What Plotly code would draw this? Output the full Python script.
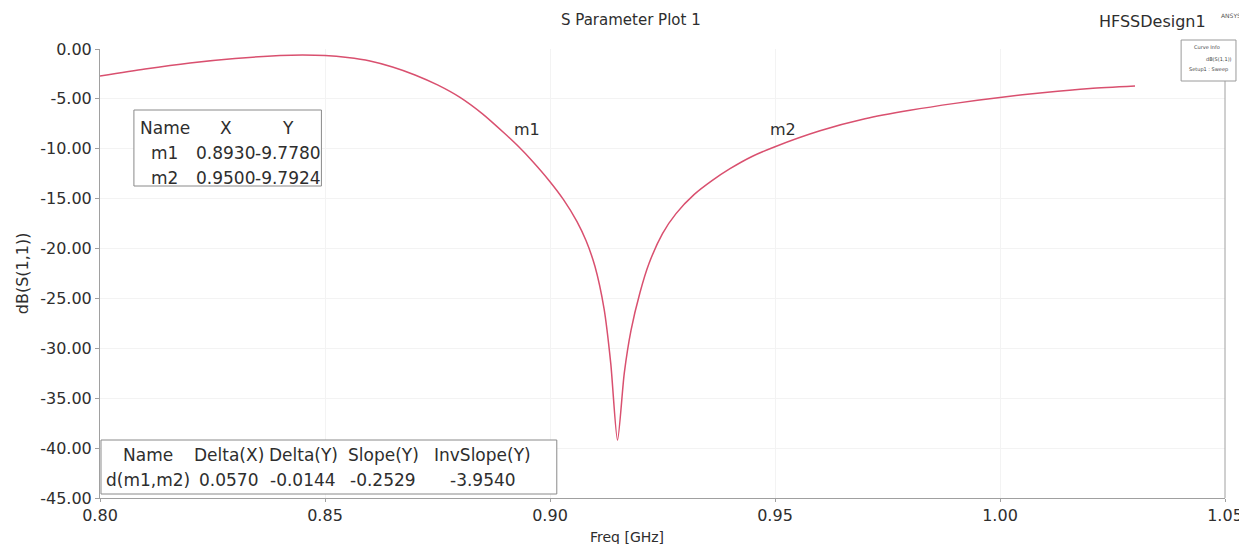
import plotly.graph_objects as go

# ---- data ----
freq_ghz = [0.800, 0.810, 0.820, 0.830, 0.840, 0.845, 0.850, 0.855, 0.860, 0.865,
            0.870, 0.875, 0.880, 0.885, 0.890, 0.893, 0.896, 0.900, 0.903, 0.906,
            0.908, 0.910, 0.912, 0.9135, 0.915, 0.9165, 0.918, 0.920, 0.922, 0.925,
            0.928, 0.932, 0.936, 0.940, 0.945, 0.950, 0.960, 0.970, 0.980, 0.990,
            1.000, 1.010, 1.020, 1.030]
s11_db = [-2.7, -2.0, -1.4, -0.95, -0.65, -0.6, -0.65, -0.85, -1.2, -1.8,
          -2.6, -3.6, -4.85, -6.5, -8.5, -9.778, -11.2, -13.3, -15.1, -17.3,
          -19.2, -21.8, -26.0, -31.5, -39.2, -32.5, -28.2, -24.4, -21.5, -18.5,
          -16.5, -14.6, -13.2, -12.0, -10.75, -9.7924, -8.2, -7.0, -6.15, -5.45,
          -4.85, -4.35, -3.95, -3.7]

marker_names = ["m1", "m2"]
marker_x = [0.8930, 0.9500]
marker_y = [-9.7780, -9.7924]

table1_header = ["Name", "X", "Y"]
table2_header = ["Name", "Delta(X)", "Delta(Y)", "Slope(Y)", "InvSlope(Y)"]
table2_row = ["d(m1,m2)", "0.0570", "-0.0144", "-0.2529", "-3.9540"]

x_ticks = [0.80, 0.85, 0.90, 0.95, 1.00, 1.05]
y_ticks = [0, -5, -10, -15, -20, -25, -30, -35, -40, -45]

# ---- layout geometry (pixels) ----
W, H = 1247, 544
L, R, T, B = 92, 1220, 41, 490


def px(x):
    return (x - L) / (R - L)


def py(y):
    return (B - y) / (B - T)


FONT = "DejaVu Sans, Verdana, sans-serif"
TXT = "#2e2e2e"
LINE_COL = "#d9506f"
FS = 16
FT = 17


def label(x, y, text, size, anchor="center", angle=0, color=TXT):
    return dict(x=px(x), y=py(y), xref="paper", yref="paper", text=text, showarrow=False,
                xanchor=anchor, yanchor="middle", textangle=angle,
                font=dict(size=size, color=color, family=FONT))


fig = go.Figure()
fig.add_trace(go.Scatter(x=freq_ghz, y=s11_db, mode="lines",
                         line=dict(color=LINE_COL, width=1.5, shape="spline", smoothing=0.7),
                         hoverinfo="x+y", showlegend=False))

annotations = []
shapes = []

# right plot border
shapes.append(dict(type="line", xref="paper", yref="paper", x0=1, x1=1, y0=0, y1=1,
                   line=dict(color="#a0a0a0", width=1)))

# marker labels on curve
for name, mx, my in zip(marker_names, marker_x, marker_y):
    annotations.append(dict(x=mx, y=my, xref="x", yref="y", text=name, showarrow=False,
                            xanchor="center", yanchor="middle", xshift=8, yshift=17,
                            font=dict(size=FS, color=TXT, family=FONT)))

# title texts
annotations.append(label(624, 12, "S Parameter Plot 1", 15))
annotations.append(label(1203, 13, "HFSSDesign1", 16, anchor="right"))
annotations.append(label(1238, 8, "ANSYS", 6, anchor="right", color="#555"))
# axis titles
annotations.append(label(620, 529, "Freq [GHz]", 14))
annotations.append(label(14, 265, "dB(S(1,1))", 16, angle=-90))

# small curve-info legend box
shapes.append(dict(type="rect", xref="paper", yref="paper", x0=px(1176), x1=px(1231),
                   y0=py(73), y1=py(32), line=dict(color="#9a9a9a", width=1), fillcolor="white",
                   layer="above"))
for txt, yy, xx, anc in [("Curve Info", 39, 1202, "center"), ("dB(S(1,1))", 51, 1229, "right"),
                         ("Setup1 : Sweep", 62, 1203, "center")]:
    annotations.append(label(xx, yy, txt, 5, anchor=anc, color="#444"))

# marker table 1
shapes.append(dict(type="rect", xref="paper", yref="paper", x0=px(126), x1=px(314),
                   y0=py(178), y1=py(102), line=dict(color="#8a8a8a", width=1), fillcolor="white",
                   layer="above"))
t1_cols = [157, 218, 281]
rows1 = [table1_header] + [[n, f"{x:.4f}", f"{y:.4f}"] for n, x, y in zip(marker_names, marker_x, marker_y)]
for ri, row in enumerate(rows1):
    yy = 120 + ri * 25
    for ci, cell in enumerate(row):
        annotations.append(label(t1_cols[ci], yy, cell, FT))

# delta table 2
shapes.append(dict(type="rect", xref="paper", yref="paper", x0=px(93), x1=px(550),
                   y0=py(486), y1=py(432), line=dict(color="#8a8a8a", width=1), fillcolor="white",
                   layer="above"))
t2_cols = [140, 221, 296, 376, 476]
for ri, row in enumerate([table2_header, table2_row]):
    yy = 447 + ri * 25
    for ci, cell in enumerate(row):
        annotations.append(label(t2_cols[ci], yy, cell, FT))

fig.update_layout(
    width=W, height=H,
    margin=dict(l=L, r=W - R, t=T, b=H - B, pad=0),
    paper_bgcolor="white", plot_bgcolor="white",
    font=dict(family=FONT, size=FS, color=TXT),
    xaxis=dict(range=[0.80, 1.05], tickvals=x_ticks, ticktext=[f"{v:.2f}" for v in x_ticks],
               showgrid=True, gridcolor="#f3f3f3", zeroline=False,
               showline=True, linecolor="#a0a0a0", linewidth=1,
               ticks="outside", ticklen=3, tickcolor="#a0a0a0",
               tickfont=dict(size=FS, color=TXT, family=FONT)),
    yaxis=dict(range=[-45, 0], tickvals=y_ticks, ticktext=[f"{v:.2f}" for v in y_ticks],
               showgrid=True, gridcolor="#f3f3f3", zeroline=False,
               showline=True, linecolor="#a0a0a0", linewidth=1,
               ticks="outside", ticklen=4, tickcolor="#a0a0a0",
               tickfont=dict(size=FS, color=TXT, family=FONT)),
    annotations=annotations, shapes=shapes,
)

fig.write_html("out.html")
